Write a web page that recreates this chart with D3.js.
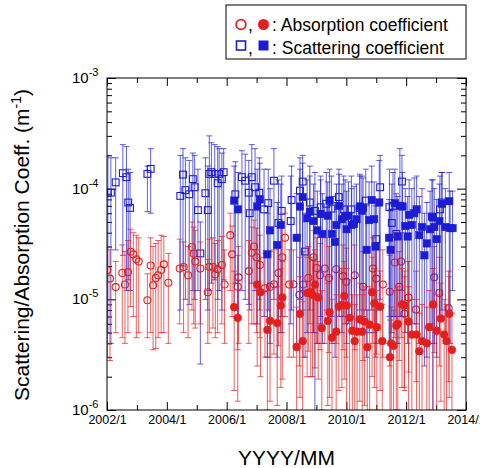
<!DOCTYPE html>
<html>
<head>
<meta charset="utf-8">
<script src="https://cdn.jsdelivr.net/npm/d3@7"></script>
<style>
body { margin: 0; background: #fff; }
text { font-family: "Liberation Sans", Arial, sans-serif; }
</style>
</head>
<body>
<svg id="chart" width="480" height="468"></svg>
<script>
// all values in units of 1e-6 m^-1 : [decimal year, value, lower end, upper end]
var scatOpen = [
  [2002.03,92,5,200],[2002.13,92,4,190],[2002.29,114,28,190],[2002.53,138,25,250],[2002.65,127,12,240],
  [2002.71,75,15,150],[2002.77,67,12,140],[2003.35,136,62,160],[2003.46,151,60,230],
  [2004.45,86,8,200],[2004.54,134,20,230],[2004.62,97,10,190],[2004.75,89,9,180],[2004.87,122,12,210],
  [2004.93,103,10,200],[2005.04,64,12,150],[2005.12,26,2.6,50],[2005.29,91,10,190],[2005.37,64,8,160],
  [2005.42,136,12,300],[2005.49,141,14,260],[2005.60,136,15,250],[2005.70,112,10,240],[2005.75,136,12,230],
  [2005.84,122,8,210],[2005.90,141,15,230],[2006.29,89,14,175],[2006.51,127,12,220],[2006.62,118,10,205],
  [2006.74,92,9,180],[2006.77,60,8,130],[2006.84,127,14,250],[2006.95,103,12,230],[2007.09,92,10,190],
  [2007.25,65,7,150],[2007.39,74,8,150],[2007.58,118,10,230],[2007.73,49,6,120],[2007.84,63,7,130],
  [2008.14,51,6,130],[2008.17,79,8,160],[2008.45,96,10,190],[2008.54,116,12,200],[2008.62,27,3,60],
  [2008.78,75,8,160],[2008.95,63,0.9,140],[2009.14,68,7,130],[2009.33,73,8,140],[2009.50,66,7,130],
  [2009.75,84,9,150],[2009.91,65,7,130],[2010.17,65,7,130],[2010.45,67,8,130],[2010.65,78,8,150],
  [2011.00,35,4,75],[2011.13,103,10,200],[2011.44,68,7,150],[2011.52,49,5,110],[2011.56,70,7,140],
  [2011.67,39,4,90],[2011.86,116,12,200],[2012.86,56,6,120],[2013.13,65,7,130],[2013.19,75,8,140]
];
var scatFilled = [
  [2006.25,78,9,160],[2006.38,65,7,140],[2007.02,69,6,150],[2007.11,80,8,170],[2007.36,25.5,3,60],
  [2007.45,42,4,100],[2007.69,31,3,75],[2007.81,47,5,110],[2008.34,36,4,90],[2008.45,69,7,150],
  [2008.54,84,8,170],[2008.69,54,5,120],[2008.78,62,6,130],[2008.90,51,5,110],[2009.03,42,4,95],
  [2009.14,59,6,120],[2009.20,39,4,90],[2009.38,57,6,115],[2009.44,78,8,150],[2009.52,39,4,85],
  [2009.62,33,3,75],[2009.67,47,5,110],[2009.76,70,7,135],[2009.85,53,5,110],[2009.96,56,6,120],
  [2010.01,43,4,95],[2010.07,57,6,115],[2010.18,47,5,100],[2010.26,48,5,105],[2010.34,53,5,110],
  [2010.45,69,7,135],[2010.52,63,6,130],[2010.56,67,7,125],[2010.68,28,3,70],[2010.76,52,5,115],
  [2010.85,79,8,160],[2010.93,53,5,115],[2010.98,30,3,70],[2011.10,75,8,180],[2011.43,36,4,80],
  [2011.48,28,3,65],[2011.62,74,7,150],[2011.72,37,4,85],[2011.79,70,7,230],[2011.88,69,7,140],
  [2011.97,46,5,100],[2012.05,37,4,85],[2012.10,58,6,120],[2012.19,47,5,100],[2012.27,60,6,125],
  [2012.35,65,6,130],[2012.44,38,4,85],[2012.53,45,4,100],[2012.61,25,2.5,60],[2012.69,32,3,75],
  [2012.80,43,4,95],[2012.89,55,0.8,120],[2012.94,45,4,100],[2013.02,35,3,80],[2013.11,51,5,110],
  [2013.20,73,7,140],[2013.31,45,4,100],[2013.44,77,8,140],[2013.47,44,4,95],[2013.55,44,12,95]
];
var absOpen = [
  [2002.01,18.4,3,30],[2002.10,15.4,2.8,28],[2002.29,12.9,5,22],[2002.51,17.3,4.5,31],[2002.60,13.6,4,27],
  [2002.70,17.6,5,34],[2002.79,26.9,8.6,43],[2002.88,25.5,7,40],[2002.98,23,4.5,38],[2003.06,22,5,36],
  [2003.35,9.8,4.5,17],[2003.46,20.2,5,36],[2003.54,13.4,3.5,30],[2003.63,15.6,3.6,32],[2003.71,16.5,4.5,34],
  [2003.81,18.4,5,38],[2003.90,20.7,5,37],[2004.05,14.1,4,26],[2004.43,19,6,35],[2004.56,19.6,5,33],
  [2004.71,16.5,4.5,30],[2004.84,29.7,8,50],[2004.90,25.8,6,45],[2004.95,22,5.5,42],[2005.12,19,6,33],
  [2005.37,11.6,4,23],[2005.42,19.7,5,35],[2005.54,19.7,5.5,36],[2005.62,16.8,4.5,32],[2005.70,18.7,5,34],
  [2005.84,20.4,6,37],[2005.93,13.6,4,28],[2006.12,38,12,60],[2006.18,25.5,7,46],[2006.37,13,3.5,25],
  [2006.40,15.8,4,30],[2006.74,18,4,34],[2006.84,26.4,6,45],[2006.91,30,6,52],[2007.00,24,5,44],
  [2007.11,20.4,4.5,38],[2007.28,12.6,3,26],[2007.45,13,3,27],[2007.58,13.7,3.2,28],[2007.73,17.3,3.8,33],
  [2007.86,24,5,45],[2007.95,36,7,60],[2008.09,13.6,3,28],[2008.23,13.7,3,28],[2008.43,11,2.5,24],
  [2008.56,13.6,3,27],[2008.73,15.6,3.4,30],[2008.90,24,5,42],[2009.01,19.2,4,36],[2009.12,16.5,3.5,32],
  [2009.28,19,4,36],[2009.42,15.6,3.3,30],[2009.66,18.7,4,35],[2009.89,16.2,3.5,31],[2010.00,14.4,3,29],
  [2010.28,16.5,3.5,31],[2010.56,13,2.8,27],[2010.89,19,4,36],[2011.00,15.4,3.2,30],[2011.22,13.6,3,28],
  [2011.45,11.7,2.5,25],[2011.62,21.5,4.5,40],[2011.77,13,2.8,27],[2011.83,22,4.5,40],[2011.94,7.4,1.6,16],
  [2012.08,10.4,2.2,22],[2012.33,8.1,1.8,18],[2012.94,15.8,3.3,30],[2013.11,11.4,2.5,24],[2013.42,8.3,1.8,18]
];
var absFilled = [
  [2006.25,8.5,1.5,18],[2006.37,6.8,1.2,15],[2007.02,13.6,2.5,28],[2007.13,11.6,2,24],[2007.36,5.3,1,12],
  [2007.45,6.4,1.2,14],[2007.69,6.1,1.1,13],[2007.81,8.8,1.6,19],[2007.86,10.4,1.9,22],[2008.34,3.7,0.7,8.5],
  [2008.45,7.4,1.3,16],[2008.54,4.2,0.8,9.5],[2008.69,11.4,2,24],[2008.81,11.6,2,24],[2008.87,11,2,23],
  [2008.95,13.6,2.4,28],[2009.06,10.4,1.9,22],[2009.18,5.5,1,12],[2009.38,6.4,1.1,14],[2009.44,7.6,1.3,16],
  [2009.52,4.5,0.8,10],[2009.66,5.1,0.9,11],[2009.75,8.6,1.5,18],[2009.85,8.9,1.6,19],[2009.93,10.7,1.9,22],
  [2010.01,8.8,0.5,19],[2010.11,6.8,0.5,15],[2010.20,5.2,0.9,11],[2010.28,4.2,0.7,9],[2010.36,5.1,0.9,11],
  [2010.45,6.6,1.2,14],[2010.53,5.1,0.9,11],[2010.61,6.3,1.1,13],[2010.70,3.7,0.6,8],[2010.78,5.9,1,13],
  [2010.86,11.6,2,24],[2010.94,9.2,1.6,19],[2011.02,5.6,1,12],[2011.13,8.6,1.5,18],[2011.20,4.2,0.7,9],
  [2011.46,3.0,0.5,6.5],[2011.50,4.0,0.7,8.5],[2011.58,3.8,0.7,8],[2011.67,5.8,1,12],[2011.72,6.0,1,13],
  [2011.86,9.0,1.6,19],[2011.94,8.8,1.5,18],[2012.08,6.3,0.5,13],[2012.19,4.8,0.8,10],[2012.35,4.8,0.8,10],
  [2012.44,3.4,0.6,7.5],[2012.53,4.2,0.7,9],[2012.69,4.0,0.7,8.5],[2012.77,5.6,1,12],[2012.90,9.0,0.5,19],
  [2013.02,5.2,0.5,11],[2013.16,6.7,1.2,14],[2013.27,4.8,0.8,10],[2013.35,4.2,0.7,9],[2013.44,7.4,1.3,16],
  [2013.53,3.5,0.6,7.5]
];

var majorYears = [2002, 2004, 2006, 2008, 2010, 2012, 2014];
var minorYears = [2003, 2005, 2007, 2009, 2011, 2013];
var yearLabels = ["2002/1", "2004/1", "2006/1", "2008/1", "2010/1", "2012/1", "2014/1"];
var decadeExp = ["-6", "-5", "-4", "-3"];
var unit = 1e-6;

var red = "#e41e1e", blue = "#1c1cd4";

var svg = d3.select("#chart");
var pL = 107, pR = 466, pT = 78, pB = 410;

var x = d3.scaleLinear().domain([2002, 2014]).range([pL, pR]);
var y = d3.scaleLog().domain([1e-6, 1e-3]).range([pB, pT]);

svg.append("clipPath").attr("id", "plotclip")
  .append("rect").attr("x", pL).attr("y", pT).attr("width", pR - pL).attr("height", pB - pT);

// ticks
var allY = y.ticks();
var majY = allY.filter(function(v) { return Math.abs(Math.log10(v) - Math.round(Math.log10(v))) < 1e-9; });
var minY = allY.filter(function(v) { return majY.indexOf(v) < 0; });

function noLabel() { return ""; }
function axisStyle(g) {
  g.select(".domain").remove();
  g.selectAll("line").attr("stroke", "#000");
}
svg.append("g").attr("transform", "translate(0," + pB + ")")
  .call(d3.axisBottom(x).tickValues(majorYears).tickSizeInner(-8).tickSizeOuter(0).tickPadding(5)
    .tickFormat(function(d, i) { return yearLabels[i]; }))
  .call(axisStyle)
  .selectAll("text").attr("font-size", 12.5).attr("fill", "#000")
  .attr("font-family", "'Liberation Sans', Arial, sans-serif");
svg.append("g").attr("transform", "translate(0," + pB + ")")
  .call(d3.axisBottom(x).tickValues(minorYears).tickSizeInner(-5).tickSizeOuter(0).tickFormat(noLabel))
  .call(axisStyle);
svg.append("g").attr("transform", "translate(0," + pT + ")")
  .call(d3.axisTop(x).tickValues(majorYears).tickSizeInner(-8).tickSizeOuter(0).tickFormat(noLabel))
  .call(axisStyle);
svg.append("g").attr("transform", "translate(0," + pT + ")")
  .call(d3.axisTop(x).tickValues(minorYears).tickSizeInner(-5).tickSizeOuter(0).tickFormat(noLabel))
  .call(axisStyle);
svg.append("g").attr("transform", "translate(" + pL + ",0)")
  .call(d3.axisLeft(y).tickValues(majY).tickSizeInner(-9).tickSizeOuter(0).tickFormat(noLabel))
  .call(axisStyle);
svg.append("g").attr("transform", "translate(" + pL + ",0)")
  .call(d3.axisLeft(y).tickValues(minY).tickSizeInner(-5).tickSizeOuter(0).tickFormat(noLabel))
  .call(axisStyle);
svg.append("g").attr("transform", "translate(" + pR + ",0)")
  .call(d3.axisRight(y).tickValues(majY).tickSizeInner(-9).tickSizeOuter(0).tickFormat(noLabel))
  .call(axisStyle);
svg.append("g").attr("transform", "translate(" + pR + ",0)")
  .call(d3.axisRight(y).tickValues(minY).tickSizeInner(-5).tickSizeOuter(0).tickFormat(noLabel))
  .call(axisStyle);

// y tick labels 10^n
majY.forEach(function(v, i) {
  var t = svg.append("text").attr("x", 72).attr("y", y(v) + 5).attr("font-size", 15).attr("fill", "#000");
  t.append("tspan").text("10");
  t.append("tspan").attr("dy", -7).attr("font-size", 11).text(decadeExp[i]);
});

// data
var plot = svg.append("g").attr("clip-path", "url(#plotclip)");

function drawSeries(data, color, shape, filled) {
  var g = plot.append("g");
  var bars = g.selectAll(".eb").data(data).enter().append("g");
  bars.append("line")
    .attr("x1", function(d) { return x(d[0]); }).attr("x2", function(d) { return x(d[0]); })
    .attr("y1", function(d) { return y(d[2] * unit); }).attr("y2", function(d) { return y(d[3] * unit); });
  bars.append("line")
    .attr("x1", function(d) { return x(d[0]) - 3; }).attr("x2", function(d) { return x(d[0]) + 3; })
    .attr("y1", function(d) { return y(d[3] * unit); }).attr("y2", function(d) { return y(d[3] * unit); });
  bars.append("line")
    .attr("x1", function(d) { return x(d[0]) - 3; }).attr("x2", function(d) { return x(d[0]) + 3; })
    .attr("y1", function(d) { return y(d[2] * unit); }).attr("y2", function(d) { return y(d[2] * unit); });
  bars.selectAll("line").attr("stroke", color).attr("stroke-width", 1).attr("stroke-opacity", 0.7);

  if (shape === "circle") {
    g.selectAll(".mk").data(data).enter().append("circle")
      .attr("cx", function(d) { return x(d[0]); })
      .attr("cy", function(d) { return y(d[1] * unit); })
      .attr("r", filled ? 3.9 : 3.5)
      .attr("fill", filled ? color : "none")
      .attr("stroke", color).attr("stroke-width", filled ? 0.5 : 1.1);
  } else {
    var s = filled ? 7.4 : 6.8;
    g.selectAll(".mk").data(data).enter().append("rect")
      .attr("x", function(d) { return x(d[0]) - s / 2; })
      .attr("y", function(d) { return y(d[1] * unit) - s / 2; })
      .attr("width", s).attr("height", s)
      .attr("fill", filled ? color : "none")
      .attr("stroke", color).attr("stroke-width", filled ? 0.5 : 1.1);
  }
}

drawSeries(scatOpen, blue, "square", false);
drawSeries(absOpen, red, "circle", false);
drawSeries(scatFilled, blue, "square", true);
drawSeries(absFilled, red, "circle", true);

// frame
svg.append("rect").attr("x", pL).attr("y", pT).attr("width", pR - pL).attr("height", pB - pT)
  .attr("fill", "none").attr("stroke", "#000").attr("stroke-width", 1);

// axis titles
var yt = svg.append("text").attr("transform", "translate(29," + ((pT + pB) / 2 + 1) + ") rotate(-90)")
  .attr("text-anchor", "middle").attr("font-size", 21).attr("fill", "#000");
yt.append("tspan").text("Scattering/Absorption Coeff. (m");
yt.append("tspan").attr("dy", -8).attr("font-size", 14).text("-1");
yt.append("tspan").attr("dy", 8).text(")");

svg.append("text").attr("x", (pL + pR) / 2).attr("y", 465).attr("text-anchor", "middle")
  .attr("font-size", 21).attr("fill", "#000").text("YYYY/MM");

// legend
var lg = svg.append("g");
lg.append("rect").attr("x", 226).attr("y", 5).attr("width", 240).attr("height", 54)
  .attr("fill", "#fff").attr("stroke", "#000").attr("stroke-width", 1);
lg.append("circle").attr("cx", 241).attr("cy", 24.5).attr("r", 4.8).attr("fill", "none").attr("stroke", red).attr("stroke-width", 1.8);
lg.append("text").attr("x", 248).attr("y", 31).attr("font-size", 17.5).text(",");
lg.append("circle").attr("cx", 263.5).attr("cy", 24.5).attr("r", 5.5).attr("fill", red);
lg.append("text").attr("x", 272).attr("y", 31).attr("font-size", 17.5).text(": Absorption coefficient");
lg.append("rect").attr("x", 236.5).attr("y", 41).attr("width", 9).attr("height", 9).attr("fill", "none").attr("stroke", blue).attr("stroke-width", 1.6);
lg.append("text").attr("x", 248).attr("y", 53.5).attr("font-size", 17.5).text(",");
lg.append("rect").attr("x", 258.5).attr("y", 40.5).attr("width", 10).attr("height", 10).attr("fill", blue);
lg.append("text").attr("x", 272).attr("y", 53.5).attr("font-size", 17.5).text(": Scattering coefficient");
</script>
</body>
</html>
